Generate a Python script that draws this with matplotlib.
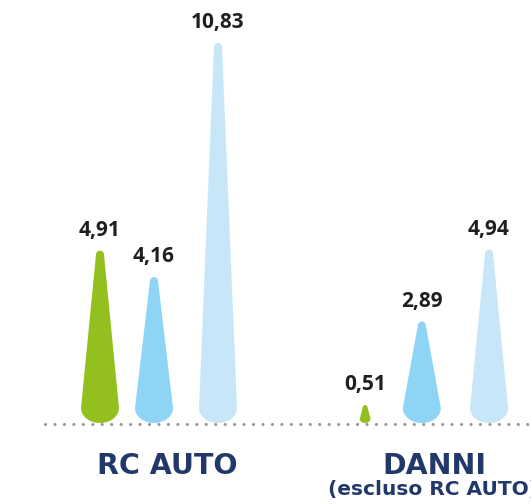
import numpy as np
import matplotlib.pyplot as plt

categories = ['RC AUTO', 'DANNI']
subtitles = ['', '(escluso RC AUTO)']
series_green = [4.91, 0.51]
series_blue = [4.16, 2.89]
series_light = [10.83, 4.94]

colors = ['#93bf1f', '#8ed4f4', '#c7e7f9']
label_color = '#1f1f1f'
cat_color = '#23386a'

# layout (pixels)
W, H = 531, 504
BASE = 81          # baseline height from bottom, px
PX = 35.1          # px per unit
group_x = [157, 425]
spread = [1.0, 1.05]
offsets = [-57, -3, 61]
cat_x = [167, 434]

fig = plt.figure(figsize=(W / 100, H / 100), dpi=100)
ax = fig.add_axes([0, 0, 1, 1])
ax.set_xlim(0, W)
ax.set_ylim(-BASE / PX, (H - BASE) / PX)
ax.axis('off')


def cone(xc, value, color):
    h = value * PX
    w = min(19.0, 0.3 * h)
    t = min(4.0, w * 0.45)
    b = min(15.0, w * 0.8)
    pts = [(-w, b), (-t, h - t)]
    a = np.linspace(np.pi, 0, 30)
    pts += list(zip(t * np.cos(a), h - t + t * np.sin(a)))
    pts += [(t, h - t), (w, b)]
    a = np.linspace(0, -np.pi, 40)
    pts += list(zip(w * np.cos(a), b + b * np.sin(a)))
    pts = np.array(pts)
    ax.fill(xc + pts[:, 0], pts[:, 1] / PX, color=color, lw=0, zorder=3)


# dotted baseline
ax.plot([45, W], [-1 / PX, -1 / PX], ls=(0, (0.01, 2.95)), color='#999999',
        lw=2.3, dash_capstyle='round', zorder=1)

for s, vals in enumerate([series_green, series_blue, series_light]):
    for g, v in enumerate(vals):
        xc = group_x[g] + offsets[s] * spread[g]
        cone(xc, v, colors[s])
        ax.text(xc, v + 15 / PX, f'{v:.2f}'.replace('.', ','), ha='center',
                va='baseline', fontsize=15, fontweight='bold',
                family='Open Sans', color=label_color)

for g, c in enumerate(categories):
    ax.text(cat_x[g], -51 / PX, c, ha='center', va='baseline', fontsize=20.5,
            fontweight='bold', family='DejaVu Sans', color=cat_color)
    if subtitles[g]:
        ax.text(cat_x[g] - 1, -72 / PX, subtitles[g], ha='center',
                va='baseline', fontsize=14.5, fontweight='bold',
                family='DejaVu Sans', color=cat_color)

fig.savefig('out.png', dpi=100)
